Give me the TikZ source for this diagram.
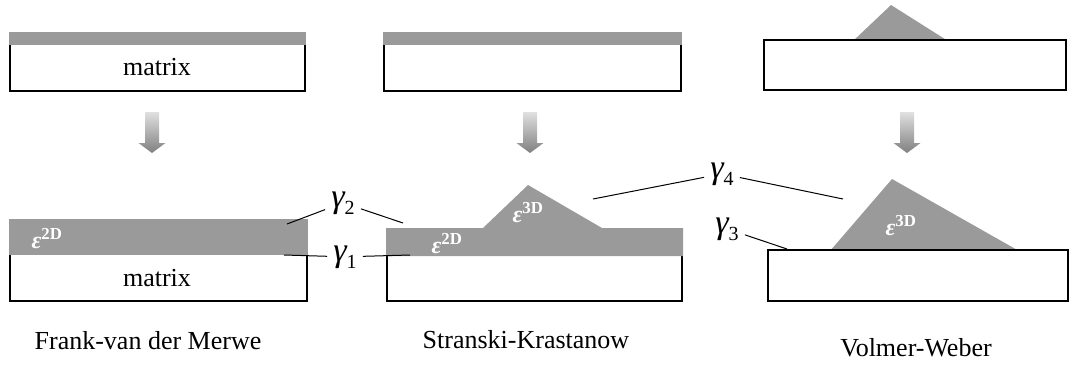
\documentclass[tikz,border=0pt]{standalone}
\usepackage{fontspec}
\setmainfont{Liberation Serif}
\definecolor{film}{RGB}{154,154,154}
\tikzset{
  substrate/.style={draw=black, line width=1.6pt, fill=white},
  layer/.style={fill=film},
  lbl/.style={font=\fontsize{26}{30}\selectfont, inner sep=0pt},
  strain/.style={text=white, font=\fontsize{24}{26}\selectfont\bfseries, inner sep=0pt},
  iface/.style={font=\fontsize{20}{22}\selectfont, anchor=base, inner xsep=6pt, inner ysep=1pt},
  leader/.style={line width=1pt}
}

\begin{document}
\begin{tikzpicture}[x=1pt, y=-1pt]
  \useasboundingbox (0,0) rectangle (1070,365);

  % before growth
  \draw[substrate] (10,44) rectangle (305,91);
  \fill[layer] (9,32) rectangle (306,45);
  \node[lbl] (m1) at (157,67) {matrix};

  \draw[substrate] (384,44) rectangle (681,91);
  \fill[layer] (383,32) rectangle (682,45);

  \fill[layer] (853,41) -- (891,5) -- (948,41) -- cycle;
  \draw[substrate] (764,40) rectangle (1066,90);

  % arrows
  \foreach \ax in {152,530,907}
    \shade[top color=black!12, bottom color=black!50]
      (\ax-7,112) -- (\ax+7,112) -- (\ax+7,143) -- (\ax+13.5,143) -- (\ax,153)
      -- (\ax-13.5,143) -- (\ax-7,143) -- cycle;

  % after growth
  \draw[substrate] (10,254) rectangle (307,301);
  \fill[layer] (9,219) rectangle (308,255);
  \node[lbl] (m2) at (157,278) {matrix};
  \node[strain] (e1) at (47,239) {\itshape ε\textsuperscript{\upshape 2D}};

  \draw[substrate] (387,255) rectangle (682,301);
  \fill[layer] (386,228) -- (483,228) -- (528,185) -- (602,228) -- (683,228)
    -- (683,256) -- (386,256) -- cycle;
  \node[strain] (e2) at (447,244) {\itshape ε\textsuperscript{\upshape 2D}};
  \node[strain] (e3) at (528,213) {\itshape ε\textsuperscript{\upshape 3D}};

  \fill[layer] (830,251) -- (892,179) -- (1019,251) -- cycle;
  \draw[substrate] (768,250) rectangle (1068,301);
  \node[strain] (e4) at (901,226) {\itshape ε\textsuperscript{\upshape 3D}};

  % interface energies
  \node[iface] (g2) at (343,207) {{\fontsize{34}{36}\selectfont\itshape γ}\raisebox{-7pt}{2}};
  \node[iface] (g1) at (345,261) {{\fontsize{34}{36}\selectfont\itshape γ}\raisebox{-7pt}{1}};
  \node[iface] (g4) at (722,178) {{\fontsize{34}{36}\selectfont\itshape γ}\raisebox{-7pt}{4}};
  \node[iface] (g3) at (727,233) {{\fontsize{34}{36}\selectfont\itshape γ}\raisebox{-7pt}{3}};

  \coordinate (g2a) at (287,224);
  \coordinate (g2b) at (403,223);
  \coordinate (g1a) at (284,255);
  \coordinate (g1b) at (410,255);
  \coordinate (g4a) at (593,199);
  \coordinate (g4b) at (843,199);
  \coordinate (g3a) at (787,249);

  \draw[leader] (g2) -- (g2a) (g2) -- (g2b);
  \draw[leader] (g1) -- (g1a) (g1) -- (g1b);
  \draw[leader] (g4) -- (g4a) (g4) -- (g4b);
  \draw[leader] (g3) -- (g3a);

  % captions
  \node[lbl, anchor=base] (c1) at (148,349) {Frank-van der Merwe};
  \node[lbl, anchor=base] (c2) at (526,348) {Stranski-Krastanow};
  \node[lbl, anchor=base] (c3) at (916,356) {Volmer-Weber};
\end{tikzpicture}
\end{document}
